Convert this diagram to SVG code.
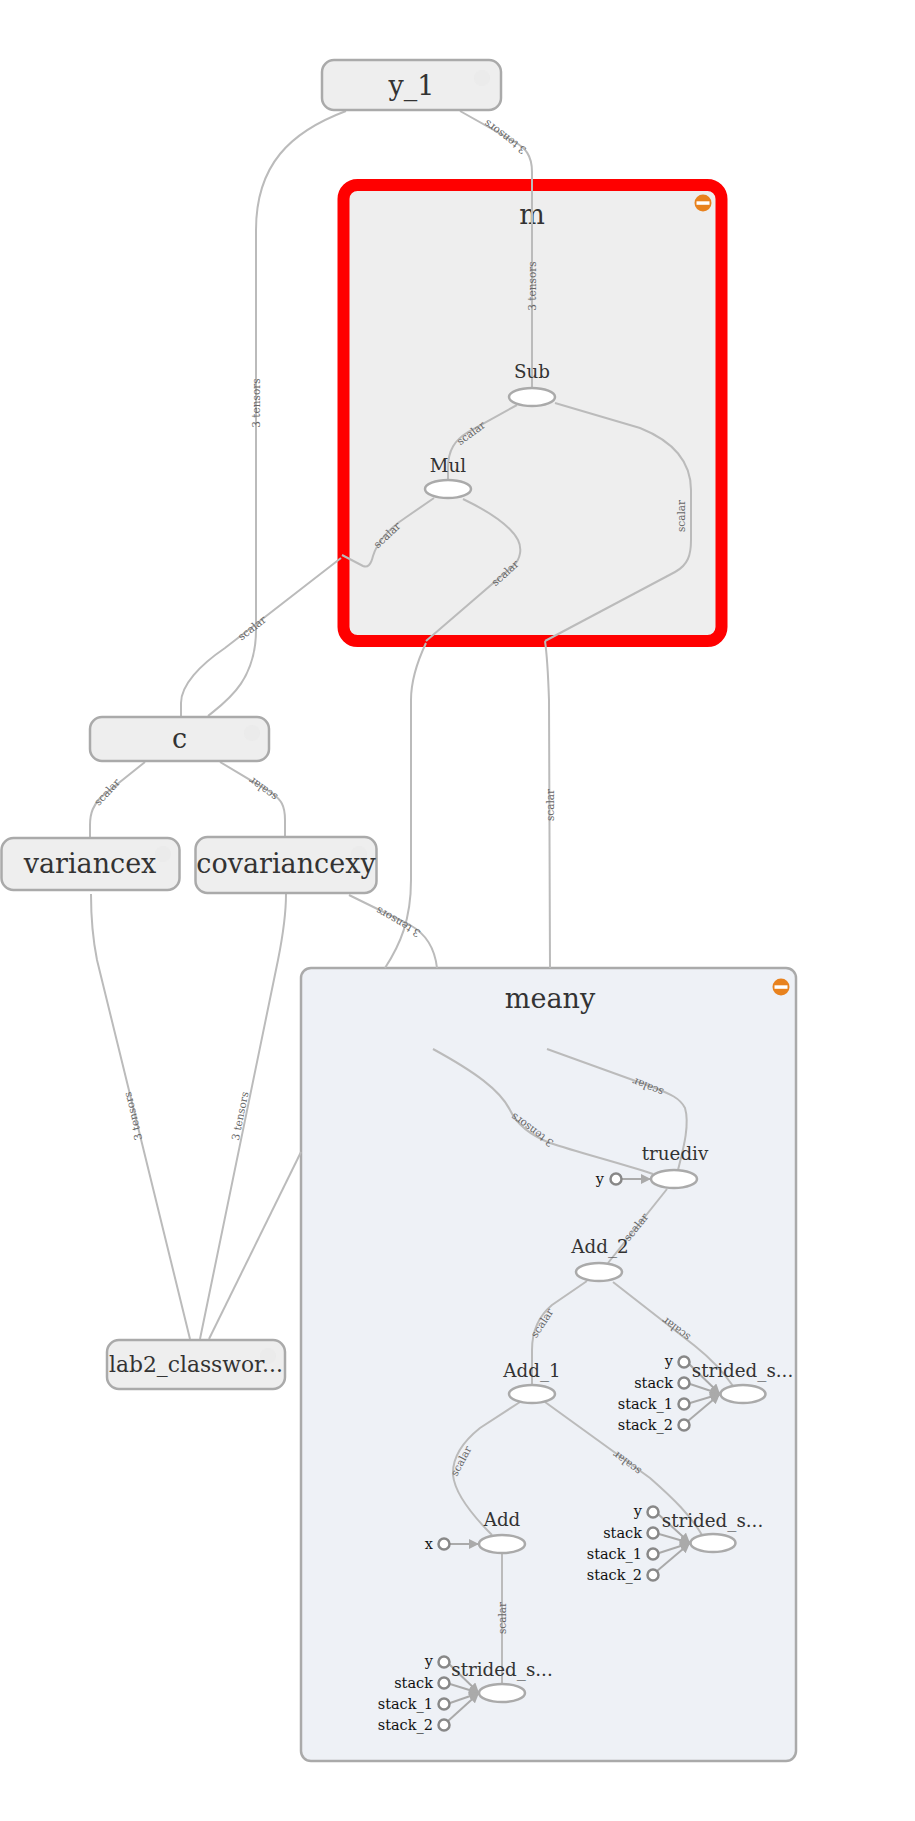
<svg xmlns="http://www.w3.org/2000/svg" width="915" height="1821" viewBox="0 0 915 1821">
<style>
.e{fill:none;stroke:#bbb;stroke-width:2}
.el{font-family:"DejaVu Serif",serif;font-size:10.5px;fill:#666;text-anchor:middle}
.ml{font-family:"DejaVu Serif",serif;font-size:27px;fill:#333;text-anchor:middle}
.ol{font-family:"DejaVu Serif",serif;font-size:18.3px;fill:#333;text-anchor:middle}
.pl{font-family:"DejaVu Serif",serif;font-size:14.5px;fill:#111;text-anchor:end}
.meta{fill:#eee;stroke:#aaa;stroke-width:2.5}
.op{fill:#fff;stroke:#aaa;stroke-width:2.5}
.port{fill:#fff;stroke:#888;stroke-width:2.5}
.pa{fill:none;stroke:#aaa;stroke-width:2;marker-end:url(#arr)}
.btn{fill:#e8821e}
.ghost{fill:#e6e6e6;opacity:0.35}
</style>
<defs>
<marker id="arr" viewBox="0 0 10 10" refX="10" refY="5" markerWidth="10" markerHeight="10" markerUnits="userSpaceOnUse" orient="auto">
<path d="M0,0 L10,5 L0,10 z" fill="#aaa"/>
</marker>
</defs>
<rect width="915" height="1821" fill="#fff"/>

<g id="m">
<rect x="343.5" y="185" width="378" height="456" rx="14" fill="#eee" stroke="#ff0000" stroke-width="12"/>
<text class="ml" x="532" y="224">m</text>
<circle class="btn" cx="703" cy="203" r="8.5"/>
<rect x="696.5" y="201.3" width="13" height="3.5" fill="#fff"/>
</g>

<g id="meany">
<rect x="301" y="968" width="495" height="793" rx="10" fill="#eef1f6" stroke="#aaa" stroke-width="2.5"/>
<text class="ml" x="550" y="1008">meany</text>
<circle class="btn" cx="781" cy="987" r="8.5"/>
<rect x="774.5" y="985.3" width="13" height="3.5" fill="#fff"/>
</g>

<g id="edges">
<path class="e" d="M208,716 C225,702 256,682 256,630 L256,230 C256,165 290,132 346,111"/>
<text class="el" transform="translate(256,403) rotate(-90)" dy="0.35em">3 tensors</text>

<path class="e" d="M532,388 L532,185"/>
<text class="el" transform="translate(532,286) rotate(-90)" dy="0.35em">3 tensors</text>
<path class="e" d="M532,185 L532,172 C532,155 525,148 515,142 L460,111"/>
<text class="el" transform="translate(505,137) rotate(216.7)" dy="0.35em">3 tensors</text>

<path class="e" d="M181,716 L181,703 C181,685 200,665 225,648 L341,558"/>
<text class="el" transform="translate(252,628) rotate(-38)" dy="0.35em">scalar</text>
<path class="e" d="M342,555 L363,566 Q370,569 373,556 C378,540 390,528 405,518 L434,498"/>
<text class="el" transform="translate(387,535) rotate(-43)" dy="0.35em">scalar</text>

<path class="e" d="M448,480 L448,468 C448,450 455,440 468,432 L517,405"/>
<text class="el" transform="translate(471,433) rotate(-36)" dy="0.35em">scalar</text>

<path class="e" d="M426,641 L513,566 C521,559 522,548 518,540 C510,525 490,512 463,499"/>
<text class="el" transform="translate(505,573) rotate(-42)" dy="0.35em">scalar</text>
<path class="e" d="M385,968 C400,945 411,920 411,880 L411,700 C411,680 418,660 426,643"/>

<path class="e" d="M545,641 L675,572 C688,565 691,555 691,540 L691,490 C691,460 670,440 640,428 L555,403"/>
<text class="el" transform="translate(681,516) rotate(-90)" dy="0.35em">scalar</text>
<path class="e" d="M550,968 L549,700 C548,670 547,655 545,641"/>
<text class="el" transform="translate(550,805) rotate(-90)" dy="0.35em">scalar</text>

<path class="e" d="M90,838 L90,825 C90,812 94,805 100,798 L145,762"/>
<text class="el" transform="translate(107,792) rotate(-47)" dy="0.35em">scalar</text>
<path class="e" d="M285,836 L285,820 C285,805 281,800 272,793 L220,762"/>
<text class="el" transform="translate(263,789) rotate(216)" dy="0.35em">scalar</text>

<path class="e" d="M437,968 C435,950 428,935 410,925 L349,895"/>
<text class="el" transform="translate(398,922) rotate(210)" dy="0.35em">3 tensors</text>

<path class="e" d="M190,1339 L97,960 C93,940 91,920 91,894"/>
<text class="el" transform="translate(133,1116) rotate(-103.5)" dy="0.35em">3 tensors</text>
<path class="e" d="M200,1339 L278,960 C283,935 286,915 286,894"/>
<text class="el" transform="translate(240,1116) rotate(-78.5)" dy="0.35em">3 tensors</text>
<path class="e" d="M209,1339 L301,1152"/>

<path class="e" d="M653,1174 C620,1163 580,1153 550,1143 C530,1135 517,1125 510,1110 C500,1090 475,1072 433,1049"/>
<text class="el" transform="translate(532,1130) rotate(216)" dy="0.35em">3 tensors</text>
<path class="e" d="M678,1170 C683,1150 690,1125 685,1108 C680,1098 670,1094 655,1088 L547,1049"/>
<text class="el" transform="translate(648,1087) rotate(202)" dy="0.35em">scalar</text>

<path class="e" d="M608,1263 L667,1189"/>
<text class="el" transform="translate(636,1227) rotate(-51)" dy="0.35em">scalar</text>
<path class="e" d="M532,1385 L532,1350 C532,1330 540,1315 552,1305 L587,1281"/>
<text class="el" transform="translate(542,1323) rotate(-57)" dy="0.35em">scalar</text>
<path class="e" d="M733,1386 C722,1370 710,1358 695,1346 L613,1282"/>
<text class="el" transform="translate(676,1329) rotate(217)" dy="0.35em">scalar</text>
<path class="e" d="M702,1535 C690,1515 675,1500 650,1478 L545,1402"/>
<text class="el" transform="translate(627,1463) rotate(216.6)" dy="0.35em">scalar</text>
<path class="e" d="M492,1535 C475,1518 455,1495 453,1475 C452,1455 465,1440 480,1428 L520,1402"/>
<text class="el" transform="translate(461,1461) rotate(-62)" dy="0.35em">scalar</text>
<path class="e" d="M502,1685 L502,1553"/>
<text class="el" transform="translate(502,1618) rotate(-90)" dy="0.35em">scalar</text>

<path class="pa" d="M622,1179 L651,1179"/>
<path class="pa" d="M450,1544 L479,1544"/>
<path class="pa" d="M689,1364 L720,1394"/>
<path class="pa" d="M690,1384 L720,1394"/>
<path class="pa" d="M690,1403 L720,1394"/>
<path class="pa" d="M688,1421 L720,1394"/>
<path class="pa" d="M658,1514 L690,1543"/>
<path class="pa" d="M659,1534 L690,1543"/>
<path class="pa" d="M659,1553 L690,1543"/>
<path class="pa" d="M657,1571 L690,1543"/>
<path class="pa" d="M449,1664 L479,1693"/>
<path class="pa" d="M450,1684 L479,1693"/>
<path class="pa" d="M450,1703 L479,1693"/>
<path class="pa" d="M448,1721 L479,1693"/>
</g>

<g id="y_1">
<rect class="meta" x="322" y="60" width="179" height="50" rx="12"/>
<circle class="ghost" cx="482" cy="78" r="8"/>
<text class="ml" x="411.5" y="95">y_1</text>
</g>
<g id="c">
<rect class="meta" x="90" y="717" width="179" height="44" rx="12"/>
<circle class="ghost" cx="252" cy="733" r="8"/>
<text class="ml" x="179.5" y="748">c</text>
</g>
<g id="variancex">
<rect class="meta" x="1.5" y="838" width="178" height="52" rx="12"/>
<circle class="ghost" cx="163" cy="854" r="8"/>
<text class="ml" x="90" y="873">variancex</text>
</g>
<g id="covariancexy">
<rect class="meta" x="195.5" y="837" width="181" height="56" rx="12"/>
<circle class="ghost" cx="359" cy="854" r="8"/>
<text class="ml" x="286" y="873">covariancexy</text>
</g>
<g id="lab2_classwork">
<rect class="meta" x="107" y="1340" width="178" height="49" rx="12"/>
<circle class="ghost" cx="268" cy="1356" r="8"/>
<text class="ml" x="196" y="1372" style="font-size:21.8px">lab2_classwor...</text>
</g>

<g id="Sub">
<ellipse class="op" cx="532" cy="397" rx="23" ry="9"/>
<text class="ol" x="532" y="378">Sub</text>
</g>
<g id="Mul">
<ellipse class="op" cx="448" cy="489" rx="23" ry="9"/>
<text class="ol" x="448" y="472">Mul</text>
</g>
<g id="truediv">
<ellipse class="op" cx="674" cy="1179" rx="23" ry="9"/>
<text class="ol" x="675" y="1160">truediv</text>
<circle class="port" cx="616" cy="1179" r="5.5"/>
<text class="pl" x="604" y="1184">y</text>
</g>
<g id="Add_2">
<ellipse class="op" cx="599" cy="1272" rx="23" ry="9"/>
<text class="ol" x="600" y="1253">Add_2</text>
</g>
<g id="Add_1">
<ellipse class="op" cx="532" cy="1394" rx="23" ry="9"/>
<text class="ol" x="532" y="1377">Add_1</text>
</g>
<g id="Add">
<ellipse class="op" cx="502" cy="1544" rx="23" ry="9"/>
<text class="ol" x="502" y="1526">Add</text>
<circle class="port" cx="444" cy="1544" r="5.5"/>
<text class="pl" x="433" y="1549">x</text>
</g>
<g id="strided_slice_2">
<ellipse class="op" cx="743" cy="1394" rx="22.5" ry="9"/>
<text class="ol" x="742.5" y="1377">strided_s...</text>
<circle class="port" cx="684" cy="1362" r="5.5"/>
<circle class="port" cx="684" cy="1383" r="5.5"/>
<circle class="port" cx="684" cy="1404" r="5.5"/>
<circle class="port" cx="684" cy="1425" r="5.5"/>
<text class="pl" x="673" y="1366">y</text>
<text class="pl" x="673" y="1388">stack</text>
<text class="pl" x="673" y="1409">stack_1</text>
<text class="pl" x="673" y="1430">stack_2</text>
</g>
<g id="strided_slice_1">
<ellipse class="op" cx="713" cy="1543" rx="22.5" ry="9"/>
<text class="ol" x="712.5" y="1527">strided_s...</text>
<circle class="port" cx="653" cy="1512" r="5.5"/>
<circle class="port" cx="653" cy="1533" r="5.5"/>
<circle class="port" cx="653" cy="1554" r="5.5"/>
<circle class="port" cx="653" cy="1575" r="5.5"/>
<text class="pl" x="642" y="1516">y</text>
<text class="pl" x="642" y="1538">stack</text>
<text class="pl" x="642" y="1559">stack_1</text>
<text class="pl" x="642" y="1580">stack_2</text>
</g>
<g id="strided_slice">
<ellipse class="op" cx="502" cy="1693" rx="23" ry="9"/>
<text class="ol" x="502" y="1676">strided_s...</text>
<circle class="port" cx="444" cy="1662" r="5.5"/>
<circle class="port" cx="444" cy="1683" r="5.5"/>
<circle class="port" cx="444" cy="1704" r="5.5"/>
<circle class="port" cx="444" cy="1725" r="5.5"/>
<text class="pl" x="433" y="1666">y</text>
<text class="pl" x="433" y="1688">stack</text>
<text class="pl" x="433" y="1709">stack_1</text>
<text class="pl" x="433" y="1730">stack_2</text>
</g>
</svg>
